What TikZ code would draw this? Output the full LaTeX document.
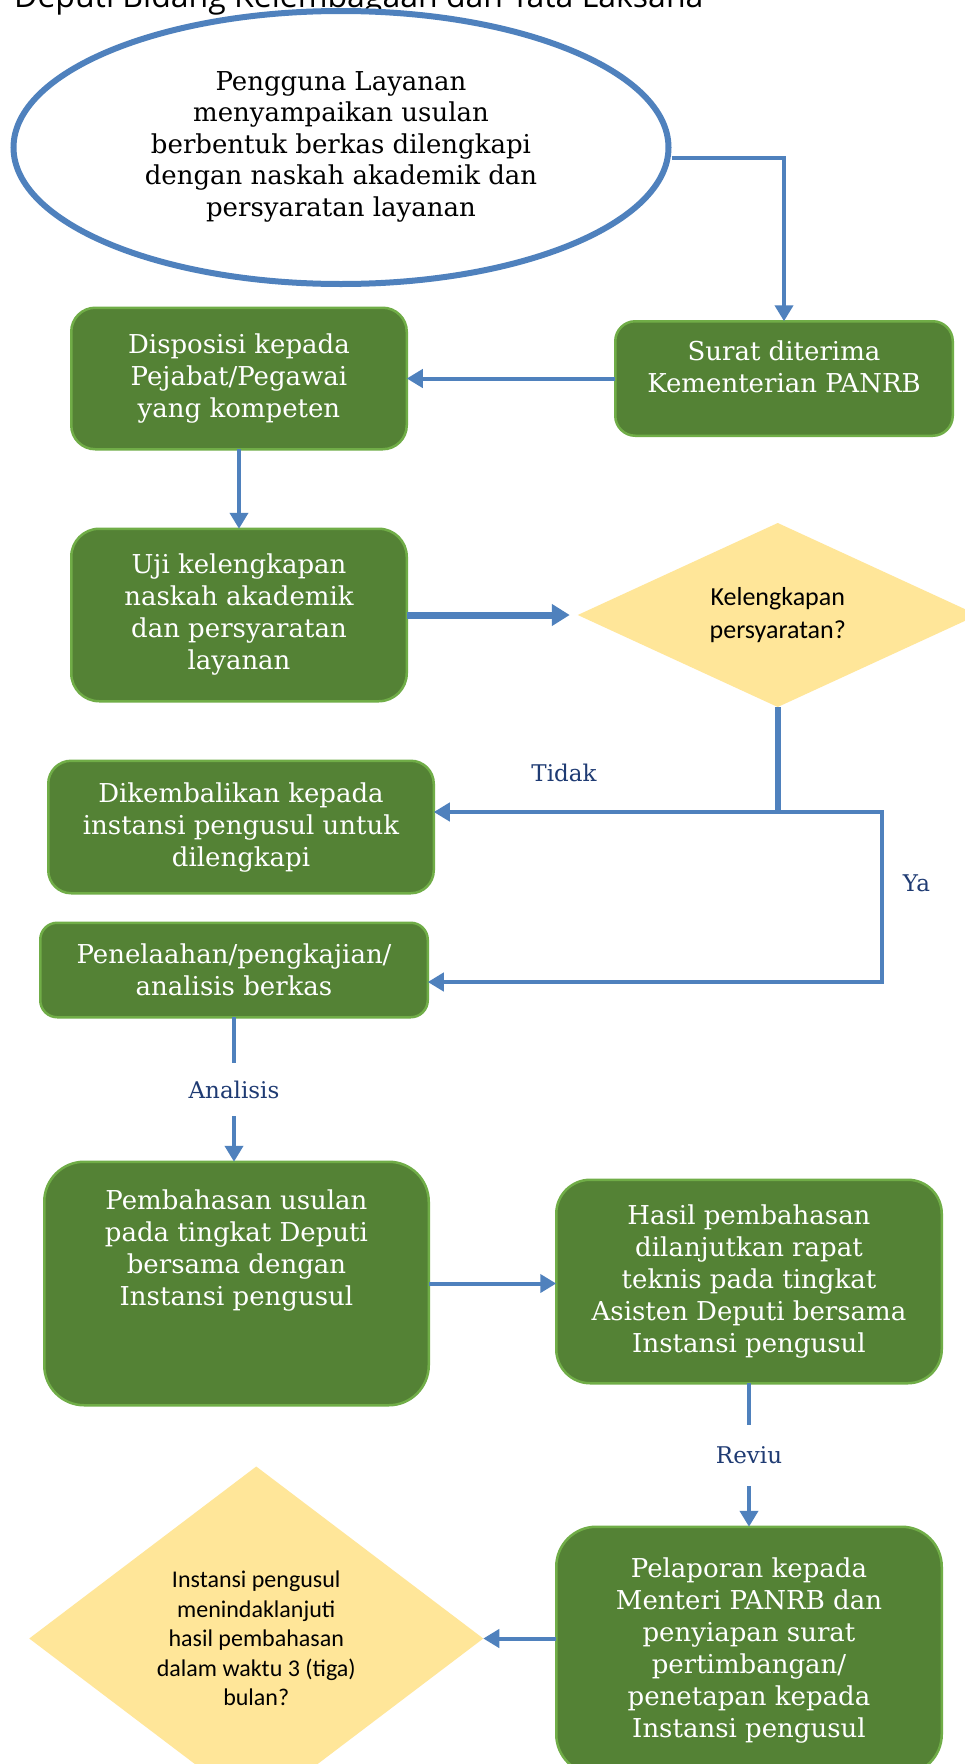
\documentclass[tikz,border=0pt]{standalone}
\usepackage{fontspec}
\setmainfont{DejaVu Serif}
\newfontfamily\calibri{Carlito}
\newfontfamily\opensans{Open Sans}
\usetikzlibrary{calc,positioning,shapes.geometric,arrows.meta}
\definecolor{garis}{HTML}{4F81BD}
\definecolor{hijau}{HTML}{548235}
\definecolor{hijaumuda}{HTML}{70AD47}
\definecolor{kuning}{HTML}{FFE699}
\definecolor{biru}{HTML}{1F3B73}

\begin{document}
\begin{tikzpicture}[x=1pt, y=-1pt,
    proses/.style={rectangle, rounded corners=22pt, draw=hijaumuda, line width=2.5pt, fill=hijau, text=white, align=center, inner sep=0pt, outer sep=0pt, font=\fontsize{26}{32}\selectfont},
    keputusan/.style={diamond, fill=kuning, inner sep=0pt, outer sep=0pt, align=center, text=black},
    alur/.style={-{Triangle[length=16pt,width=18pt]}, line width=4pt, draw=garis},
    ket/.style={text=biru, inner sep=0pt, font=\fontsize{23}{28}\selectfont}]
        \useasboundingbox (0,0) rectangle (964,1764);
        \fill[white] (0,0) rectangle (964,1764);

        %% Judul (terpotong di atas)
        \node[anchor=base west, inner sep=0pt, font=\opensans\fontsize{32}{38}\selectfont] (judul) at (14,7) {Deputi Bidang Kelembagaan dan Tata Laksana};

        %% Pengguna layanan
        \node[ellipse, draw=garis, line width=6pt, fill=white, minimum width=655pt, minimum height=273pt, align=center, inner sep=0pt, font=\fontsize{26}{31.5}\selectfont] (pengguna) at (341,147.5) {Pengguna Layanan\\ menyampaikan usulan\\ berbentuk berkas dilengkapi\\ dengan naskah akademik dan\\ persyaratan layanan\\[-24pt]\mbox{}};

        %% Proses atas
        \node[proses, minimum width=337.5pt, minimum height=114.5pt, rounded corners=20pt] (surat) at (784,378.5) {Surat diterima\\ Kementerian PANRB\\[-8pt]\mbox{}};
        \node[proses, left=208.5pt of surat, minimum width=335.5pt, minimum height=141.5pt, rounded corners=24pt] (disposisi) {Disposisi kepada\\ Pejabat/Pegawai\\ yang kompeten};
        \node[proses, below=79.5pt of disposisi, minimum width=335.5pt, minimum height=172.5pt, rounded corners=28pt] (uji) {Uji kelengkapan\\ naskah akademik\\ dan persyaratan\\ layanan};
        \node[keputusan, right=171pt of uji, minimum width=400pt, minimum height=184pt, shape aspect=2, font=\calibri\fontsize{26}{33}\selectfont] (syarat) {Kelengkapan\\ persyaratan?};

        %% Proses tengah
        \node[proses, below=59.5pt of uji, xshift=2pt, minimum width=385.5pt, minimum height=132.5pt, rounded corners=23pt] (kembali) {Dikembalikan kepada\\ instansi pengusul untuk\\ dilengkapi};
        \node[proses, below=29.5pt of kembali, xshift=-7pt, minimum width=387.5pt, minimum height=94.5pt, rounded corners=17pt] (telaah) {Penelaahan/pengkajian/\\ analisis berkas};
        \node[proses, below=144.5pt of telaah, xshift=2.5pt, minimum width=384.5pt, minimum height=243.5pt, rounded corners=40pt] (bahas) {Pembahasan usulan\\ pada tingkat Deputi\\ bersama dengan\\ Instansi pengusul\\[40pt]\mbox{}};
        \node[proses, right=127.5pt of bahas, yshift=2pt, minimum width=385.5pt, minimum height=203.5pt, rounded corners=34pt] (hasil) {Hasil pembahasan\\ dilanjutkan rapat\\ teknis pada tingkat\\ Asisten Deputi bersama\\ Instansi pengusul};

        %% Proses bawah
        \node[proses, below=143.5pt of hasil, minimum width=385.5pt, minimum height=247.5pt, rounded corners=40pt] (lapor) {Pelaporan kepada\\ Menteri PANRB dan\\ penyiapan surat\\ pertimbangan/\\ penetapan kepada\\ Instansi pengusul};
        \node[keputusan, left=73pt of lapor, yshift=12pt, minimum width=454pt, minimum height=344pt, shape aspect=1.32, font=\calibri\fontsize{24}{29.5}\selectfont] (tindak) {Instansi pengusul\\ menindaklanjuti\\ hasil pembahasan\\ dalam waktu 3 (tiga)\\ bulan?};

        %% Alur
        \draw[alur] ([yshift=-10pt]pengguna.east) -| (surat.north);
        \draw[alur] (surat.west) -- (disposisi.east);
        \draw[alur] (disposisi) -- (uji);
        \draw[alur, line width=7pt, -{Triangle[length=18pt,width=21pt]}, shorten >=8pt] (uji) -- (syarat);

        %% Cabang Tidak / Ya
        \coordinate[below=105pt of syarat.south] (cabang);
        \coordinate[right=104pt of cabang] (sudut);
        \draw[garis, line width=6pt] (syarat.south) -- ([yshift=-2pt]cabang);
        \draw[alur] (cabang) -- (cabang -| kembali.east);
        \draw[alur] (cabang) -- (sudut) |- ([yshift=-12pt]telaah.east);
        \node[ket, anchor=east] (tidak) at ($(cabang)+(-181,-39)$) {Tidak};
        \node[ket, anchor=west] (ya) at ($(sudut)+(21,71)$) {Ya};

        \draw[alur] (telaah.south) -- node[ket, fill=white, minimum height=53pt] (analisis) {Analisis} (telaah.south |- bahas.north);
        \draw[alur] (bahas.east) -- (bahas.east -| hasil.west);
        \draw[alur] (hasil.south) -- node[ket, fill=white, minimum height=61pt] (reviu) {Reviu} (lapor.north);
        \draw[alur] (tindak.east -| lapor.west) -- (tindak.east);
    \end{tikzpicture}
\end{document}
